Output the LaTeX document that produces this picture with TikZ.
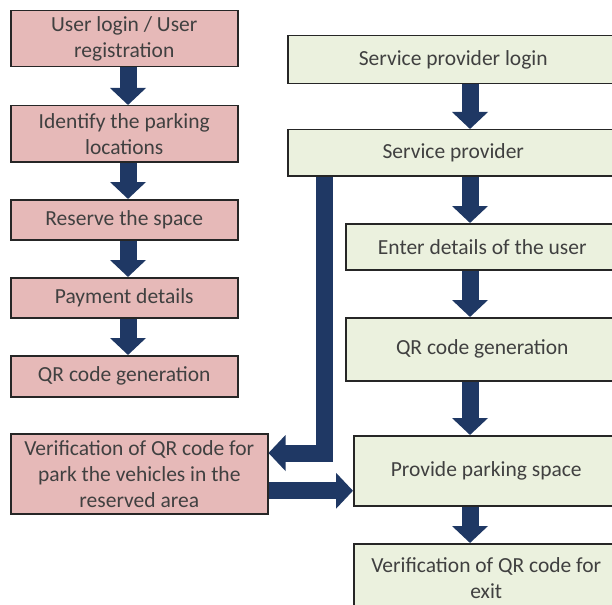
\documentclass[tikz,border=0pt]{standalone}
\usepackage{fontspec}
\setmainfont{Carlito}
\usepackage{tikz}
\usetikzlibrary{arrows.meta}

\definecolor{userpink}{RGB}{230,185,184}
\definecolor{provgreen}{RGB}{235,241,222}
\definecolor{navyarrow}{RGB}{31,56,100}

\begin{document}
\begin{tikzpicture}[x=1pt,y=-1pt,
    userbox/.style={draw=black!85,line width=1.5pt,fill=userpink,anchor=north west,
        inner sep=0pt,align=center,text=black!75,font=\fontsize{21.5}{26}\selectfont},
    provbox/.style={userbox,fill=provgreen},
    blockarrow/.style={draw=navyarrow,line width=17pt,
        -{Triangle[width=35pt,length=17pt]}}]
    \clip (0,0) rectangle (612,604);

    % user side
    \node[userbox,minimum width=227pt,minimum height=56pt] (login) at (10,10)
        {User login / User\\registration};
    \node[userbox,minimum width=227pt,minimum height=56pt] (locate) at (10,105)
        {Identify the parking\\locations};
    \node[userbox,minimum width=227pt,minimum height=40pt] (reserve) at (10,199)
        {Reserve the space};
    \node[userbox,minimum width=227pt,minimum height=40pt] (payment) at (10,277)
        {Payment details};
    \node[userbox,minimum width=227pt,minimum height=41pt] (qruser) at (10,355)
        {QR code generation};
    \node[userbox,minimum width=257pt,minimum height=80pt] (vpark) at (10,433)
        {Verification of QR code for\\park the vehicles in the\\reserved area};

    % service provider side (runs off the right edge)
    \node[provbox,minimum width=331pt,minimum height=48pt] (splogin) at (287,35)
        {Service provider login};
    \node[provbox,minimum width=331pt,minimum height=46pt] (provider) at (287,129)
        {Service provider};
    \node[provbox,minimum width=273pt,minimum height=46pt] (details) at (345,223)
        {Enter details of the user};
    \node[provbox,minimum width=273pt,minimum height=63pt] (qrprov) at (345,317)
        {QR code generation};
    \node[provbox,minimum width=265pt,minimum height=70pt] (parking) at (353,435)
        {Provide parking space};
    \node[provbox,minimum width=265pt,minimum height=68pt] (vexit) at (353,543)
        {Verification of QR code for\\exit};

    \coordinate (lcol) at (128,0);
    \coordinate (rcol) at (470,0);

    \draw[blockarrow] (login.south -| lcol) -- (locate.north -| lcol);
    \draw[blockarrow] (locate.south -| lcol) -- (reserve.north -| lcol);
    \draw[blockarrow] (reserve.south -| lcol) -- (payment.north -| lcol);
    \draw[blockarrow] (payment.south -| lcol) -- (qruser.north -| lcol);

    \draw[blockarrow] (splogin.south -| rcol) -- (provider.north -| rcol);
    \draw[blockarrow] (provider.south -| rcol) -- (details.north -| rcol);
    \draw[blockarrow] (details.south -| rcol) -- (qrprov.north -| rcol);
    \draw[blockarrow] (qrprov.south -| rcol) -- (parking.north -| rcol);
    \draw[blockarrow] (parking.south -| rcol) -- (vexit.north -| rcol);

    \draw[blockarrow] ([xshift=37pt]provider.south west) |- ([yshift=-20pt]vpark.north east);
    \draw[blockarrow] ([yshift=-17pt]vpark.east) -- ([yshift=-17pt]vpark.east -| parking.west);

\end{tikzpicture}
\end{document}
